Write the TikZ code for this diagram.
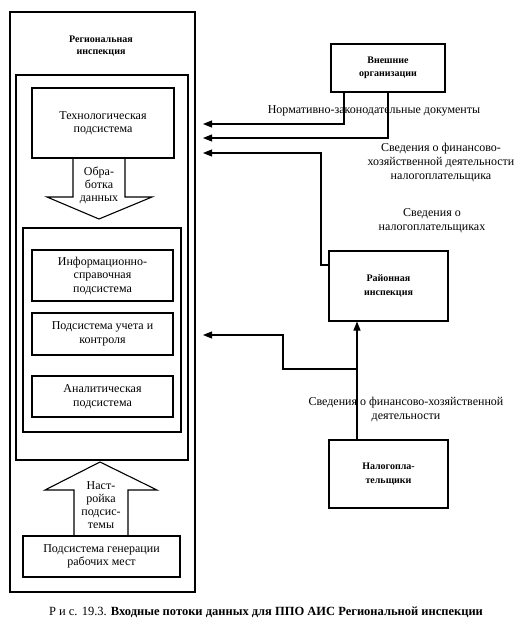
\documentclass[tikz,border=0pt]{standalone}
\usepackage{fontspec}
\setmainfont{Liberation Serif}
\usepackage{tikz}
\usetikzlibrary{arrows.meta}

\tikzset{
	box/.style={draw, line width=1.1pt, align=center, inner sep=1pt, font=\fontsize{12}{13.5}\selectfont},
	hdr/.style={align=center, inner sep=0pt, font=\fontsize{10}{12.5}\selectfont\bfseries},
	lbl/.style={align=center, inner sep=0pt, font=\fontsize{12}{14}\selectfont},
	flow/.style={line width=1.1pt, -{Triangle[length=9pt,width=7pt]}},
	wire/.style={line width=1.1pt},
}

\begin{document}
\begin{tikzpicture}[x=1pt,y=-1pt]
	\useasboundingbox (0,0) rectangle (523,634);

	% containers
	\draw[wire] (10,12) rectangle (195,592);
	\draw[wire] (16,75) rectangle (188,460);
	\draw[wire] (23,228) rectangle (181,432);

	\node[hdr] (reg) at (101,46) {Региональная\\инспекция};

	\node[box, minimum width=142pt, minimum height=70pt] (tech) at (103,123) {Технологическая\\подсистема};
	\node[box, minimum width=141pt, minimum height=51pt] (info) at (102.5,275.5) {Информационно-\\справочная\\подсистема};
	\node[box, minimum width=141pt, minimum height=42pt] (ucheta) at (102.5,334) {Подсистема учета и\\контроля};
	\node[box, minimum width=141pt, minimum height=41pt] (anal) at (102.5,396.5) {Аналитическая\\подсистема};
	\node[box, minimum width=157pt, minimum height=41pt] (gen) at (101.5,556.5) {Подсистема генерации\\рабочих мест};

	% block arrows
	\draw[wire] (73,158) -- (73,197) -- (47,197) -- (99,219) -- (152,197) -- (125,197) -- (125,158);
	\node[lbl, font=\fontsize{12}{13}\selectfont] (proc) at (99,185) {Обра-\\ботка\\данных};
	\draw[wire] (74,536) -- (74,490) -- (45,490) -- (100,462) -- (157,490) -- (128,490) -- (128,536);
	\node[lbl, font=\fontsize{12}{13}\selectfont] (tune) at (101,505) {Наст-\\ройка\\подсис-\\темы};

	% outside
	\node[box, minimum width=114pt, minimum height=48pt] (ext) at (388,68) {\fontsize{10}{12.5}\selectfont\bfseries Внешние\\\fontsize{10}{12.5}\selectfont\bfseries организации};
	\node[box, minimum width=119pt, minimum height=70pt] (rai) at (388.5,286) {\fontsize{10}{12.5}\selectfont\bfseries Районная\\\fontsize{10}{12.5}\selectfont\bfseries инспекция};
	\node[box, minimum width=119pt, minimum height=68pt] (tax) at (388.5,474) {\fontsize{10}{12.5}\selectfont\bfseries Налогопла-\\\fontsize{10}{12.5}\selectfont\bfseries тельщики};

	\coordinate (in1) at (203,124);
	\coordinate (in2) at (203,138);
	\coordinate (in3) at (203,153);
	\coordinate (in4) at (203,335);
	\coordinate (k3) at (321,153);
	\coordinate (k4) at (283,335);
	\coordinate (j) at (357,369);

	\draw[flow] ([xshift=-44pt]ext.south) |- (in1);
	\draw[flow] (ext.south) |- (in2);
	\draw[flow] ([yshift=21pt]rai.west) -| (k3) -- (in3);
	\draw[flow] ([xshift=-31.5pt]tax.north) -- ([xshift=-31.5pt]rai.south);
	\draw[flow] (j) -| (k4) -- (in4);

	% labels
	\node[lbl] (l1) at (374,111) {Нормативно-законодательные документы};
	\node[lbl] (l2) at (441,163) {Сведения о финансово-\\хозяйственной деятельности\\налогоплательщика};
	\node[lbl] (l3) at (432,221) {Сведения о\\налогоплательщиках};
	\node[lbl] (l4) at (406,409) {Сведения о финансово-хозяйственной\\деятельности};

	\node[lbl, font=\fontsize{12.5}{14}\selectfont] (cap) at (266,612) {Р и с. 19.3. \textbf{Входные потоки данных для ППО АИС Региональной инспекции}};
\end{tikzpicture}
\end{document}
